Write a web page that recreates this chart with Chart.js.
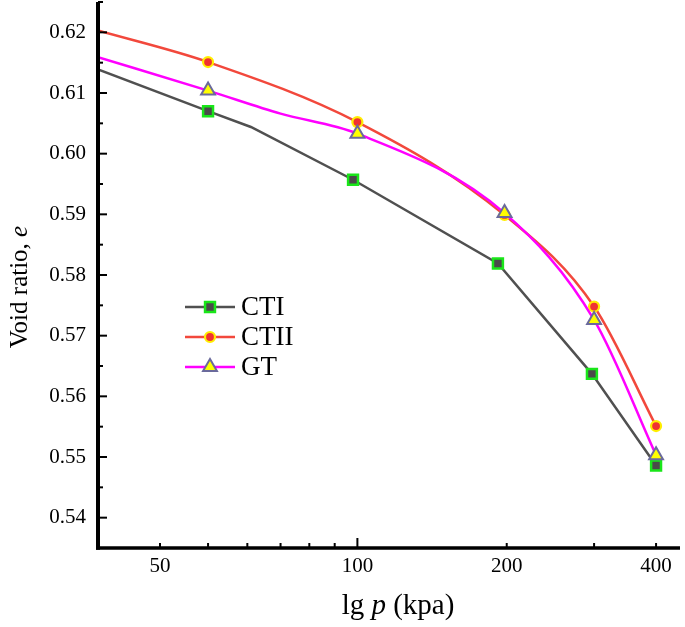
<!DOCTYPE html>
<html>
<head>
<meta charset="utf-8">
<script src="https://cdn.jsdelivr.net/npm/chart.js@4.4.1/dist/chart.umd.min.js"></script>
<style>
  html, body { margin: 0; padding: 0; background: #fff; }
  canvas { display: block; }
</style>
</head>
<body>
<canvas id="myChart" width="685" height="627"></canvas>
<script>
// ==== data
const seriesNames = ['CTI', 'CTII', 'GT'];

// CTI (the first point sits on the left edge, the third is an unmarked bend)
const ctiP = [30, 50, 61, 98, 192, 297, 400];
const ctiE = [0.6139, 0.6070, 0.6044, 0.5957, 0.5819, 0.5637, 0.5486];
const ctiMarked = [0, 1, 0, 1, 1, 1, 1];

// CTII
const ct2P = [30, 50, 100, 198, 300, 400];
const ct2E = [0.6203, 0.6151, 0.6052, 0.5899, 0.5748, 0.5551];
const ct2Marked = [0, 1, 1, 1, 1, 1];

// GT
const gtP = [30, 50, 70, 100, 198, 300, 400];
const gtE = [0.6159, 0.6104, 0.6066, 0.6033, 0.5902, 0.5726, 0.5503];
const gtMarked = [0, 1, 0, 1, 1, 1, 1];

// axes
const xTickValues = [40, 100, 200, 400];
const xTickLabels = ['50', '100', '200', '400'];
const xMajorTicks = [100];
const xMinorTicks = [40, 50, 60, 70, 80, 90, 200, 300, 400];
const yTickValues = [0.54, 0.55, 0.56, 0.57, 0.58, 0.59, 0.60, 0.61, 0.62];
const yMinorTicks = [0.545, 0.555, 0.565, 0.575, 0.585, 0.595, 0.605, 0.615, 0.625];

const serif = "'Liberation Serif', 'Times New Roman', serif";

function toPoints(xs, ys) {
  return xs.map((p, i) => ({ x: p, y: ys[i] }));
}

// ==== marker drawing (same geometry as Chart.js point styles)
function drawMarker(ctx, style, r, x, y) {
  ctx.beginPath();
  if (style === 'rect') {
    const s = Math.SQRT1_2 * r;
    ctx.rect(x - s, y - s, 2 * s, 2 * s);
  } else if (style === 'triangle') {
    let rad = 0;
    ctx.moveTo(x + Math.sin(rad) * r, y - Math.cos(rad) * r);
    rad += Math.PI * 2 / 3;
    ctx.lineTo(x + Math.sin(rad) * r, y - Math.cos(rad) * r);
    rad += Math.PI * 2 / 3;
    ctx.lineTo(x + Math.sin(rad) * r, y - Math.cos(rad) * r);
    ctx.closePath();
  } else {
    ctx.arc(x, y, r, 0, Math.PI * 2);
  }
  ctx.fill();
  ctx.stroke();
}

// ==== axes lines, inward ticks, titles, legend
const decor = {
  id: 'decor',
  afterDraw(chart) {
    const { ctx, chartArea: a } = chart;
    const xs = chart.scales.x;
    const ys = chart.scales.y;
    ctx.save();
    ctx.strokeStyle = '#000';
    ctx.lineCap = 'butt';

    // axis lines
    ctx.lineWidth = 4;
    ctx.beginPath();
    ctx.moveTo(a.left, a.top);
    ctx.lineTo(a.left, a.bottom + 1.75);
    ctx.stroke();
    ctx.lineWidth = 3.5;
    ctx.beginPath();
    ctx.moveTo(a.left - 2, a.bottom);
    ctx.lineTo(a.right, a.bottom);
    ctx.stroke();

    // ticks pointing into the plot
    ctx.lineWidth = 2;
    yTickValues.forEach(v => {
      const py = ys.getPixelForValue(v);
      ctx.beginPath(); ctx.moveTo(a.left, py); ctx.lineTo(a.left + 9, py); ctx.stroke();
    });
    yMinorTicks.forEach(v => {
      const py = ys.getPixelForValue(v);
      ctx.beginPath(); ctx.moveTo(a.left, py); ctx.lineTo(a.left + 5, py); ctx.stroke();
    });
    xMajorTicks.forEach(v => {
      const px = xs.getPixelForValue(v);
      ctx.beginPath(); ctx.moveTo(px, a.bottom); ctx.lineTo(px, a.bottom - 10); ctx.stroke();
    });
    xMinorTicks.forEach(v => {
      const px = xs.getPixelForValue(v);
      ctx.beginPath(); ctx.moveTo(px, a.bottom); ctx.lineTo(px, a.bottom - 5); ctx.stroke();
    });

    // axis titles (mixed upright / italic)
    ctx.fillStyle = '#000';
    ctx.textBaseline = 'middle';
    const drawParts = (parts, size, cx, cy) => {
      let total = 0;
      parts.forEach(p => {
        ctx.font = (p[1] ? 'italic ' : '') + size + 'px ' + serif;
        total += ctx.measureText(p[0]).width;
      });
      let x = cx - total / 2;
      ctx.textAlign = 'left';
      parts.forEach(p => {
        ctx.font = (p[1] ? 'italic ' : '') + size + 'px ' + serif;
        ctx.fillText(p[0], x, cy);
        x += ctx.measureText(p[0]).width;
      });
    };
    drawParts([['lg ', false], ['p', true], [' (kpa)', false]], 29, 398, 606);
    ctx.save();
    ctx.translate(20, 287);
    ctx.rotate(-Math.PI / 2);
    drawParts([['Void ratio, ', false], ['e', true]], 25, 0, 0);
    ctx.restore();

    // legend
    const lx0 = 185, lx1 = 235, ly0 = 307, lgap = 30;
    chart.data.datasets.forEach((ds, i) => {
      const ly = ly0 + i * lgap;
      ctx.strokeStyle = ds.borderColor;
      ctx.lineWidth = ds.borderWidth;
      ctx.beginPath(); ctx.moveTo(lx0, ly); ctx.lineTo(lx1, ly); ctx.stroke();
      ctx.fillStyle = ds.pointBackgroundColor;
      ctx.strokeStyle = ds.pointBorderColor;
      ctx.lineWidth = ds.pointBorderWidth;
      drawMarker(ctx, ds.pointStyle, ds.markerSize, (lx0 + lx1) / 2, ly);
      ctx.fillStyle = '#000';
      ctx.font = '27px ' + serif;
      ctx.textAlign = 'left';
      ctx.textBaseline = 'middle';
      ctx.fillText(ds.label, lx1 + 6, ly + 1);
    });
    ctx.restore();
  }
};

const data = {
  datasets: [
    {
      label: seriesNames[0],
      data: toPoints(ctiP, ctiE),
      borderColor: '#505050',
      borderWidth: 2.5,
      tension: 0,
      pointStyle: 'rect',
      markerSize: 7,
      pointRadius: ctiMarked.map(m => m ? 7 : 0),
      pointBackgroundColor: '#4a4a4a',
      pointBorderColor: '#19e619',
      pointBorderWidth: 2.5,
      order: 2
    },
    {
      label: seriesNames[1],
      data: toPoints(ct2P, ct2E),
      borderColor: '#f2483c',
      borderWidth: 2.5,
      cubicInterpolationMode: 'monotone',
      pointStyle: 'circle',
      markerSize: 5,
      pointRadius: ct2Marked.map(m => m ? 5 : 0),
      pointBackgroundColor: '#f03232',
      pointBorderColor: '#ffee00',
      pointBorderWidth: 2.2,
      order: 1
    },
    {
      label: seriesNames[2],
      data: toPoints(gtP, gtE),
      borderColor: '#ff00ff',
      borderWidth: 2.5,
      cubicInterpolationMode: 'monotone',
      pointStyle: 'triangle',
      markerSize: 8,
      pointRadius: gtMarked.map(m => m ? 8 : 0),
      pointBackgroundColor: '#ffff00',
      pointBorderColor: '#6a6a9c',
      pointBorderWidth: 2,
      order: 0
    }
  ]
};

const config = {
  type: 'line',
  data,
  options: {
    responsive: false,
    devicePixelRatio: 1,
    animation: false,
    layout: { autoPadding: false, padding: { top: 2, right: 5, left: 0, bottom: 0 } },
    plugins: {
      legend: { display: false },
      tooltip: { enabled: false }
    },
    scales: {
      x: {
        type: 'logarithmic',
        min: 30,
        max: 447,
        grid: { display: false, drawTicks: false },
        border: { display: false },
        afterBuildTicks: s => { s.ticks = xTickValues.map(v => ({ value: v })); },
        afterFit: s => {
          s.height = 79;
          s.paddingLeft = 0; s.paddingRight = 0; s.paddingTop = 0; s.paddingBottom = 0;
        },
        ticks: {
          callback: (v, i) => xTickLabels[i],
          color: '#000',
          font: { family: serif, size: 21 },
          padding: 6,
          maxRotation: 0,
          autoSkip: false
        }
      },
      y: {
        min: 0.535,
        max: 0.625,
        grid: { display: false, drawTicks: false },
        border: { display: false },
        afterBuildTicks: s => { s.ticks = yTickValues.map(v => ({ value: v })); },
        afterFit: s => {
          s.width = 98;
          s.paddingLeft = 0; s.paddingRight = 0; s.paddingTop = 0; s.paddingBottom = 0;
        },
        ticks: {
          callback: v => Number(v).toFixed(2),
          color: '#000',
          font: { family: serif, size: 21 },
          padding: 12,
          autoSkip: false
        }
      }
    }
  },
  plugins: [decor]
};

const myChart = new Chart(document.getElementById('myChart'), config);
</script>
</body>
</html>
